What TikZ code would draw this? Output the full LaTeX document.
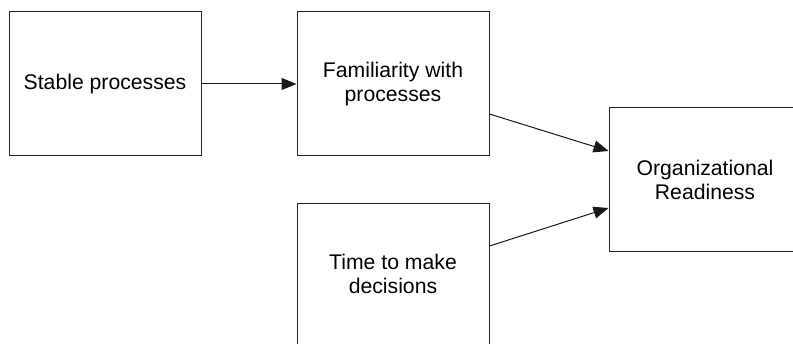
\documentclass[tikz,border=0pt]{standalone}
\usepackage{fontspec}
\setmainfont{Liberation Sans}
\usetikzlibrary{arrows.meta}
\begin{document}
\begin{tikzpicture}[x=1pt,y=-1pt,
  label text/.style={align=center, inner sep=0pt, font=\fontsize{21.2}{24}\selectfont},
  box/.style={draw=black!85, line width=1pt, minimum width=192pt, minimum height=144pt,
    label text},
  link/.style={draw=black!90, line width=1pt, -{Triangle[length=15pt,width=12pt]}}]
  \useasboundingbox (0,0) rectangle (793,344);
  \clip (0,0) rectangle (793,344);
  % factor boxes
  \node[box] (stable) at (105,84) {Stable processes};
  \node[box] (famil)  at (393,84) {Familiarity with\\processes};
  \node[box] (time)   at (393,276) {};
  \node[label text] (timetxt) at (393,274) {Time to make\\decisions};
  \node[box] (ready)  at (705,180) {Organizational\\Readiness};
  % influences
  \draw[link] (stable.east) -- (famil.west);
  \draw[link] ([yshift=-30pt]famil.east) -- ([yshift=29pt]ready.west);
  \draw[link] ([yshift=30pt]time.east) -- ([yshift=-28pt]ready.west);
\end{tikzpicture}
\end{document}
